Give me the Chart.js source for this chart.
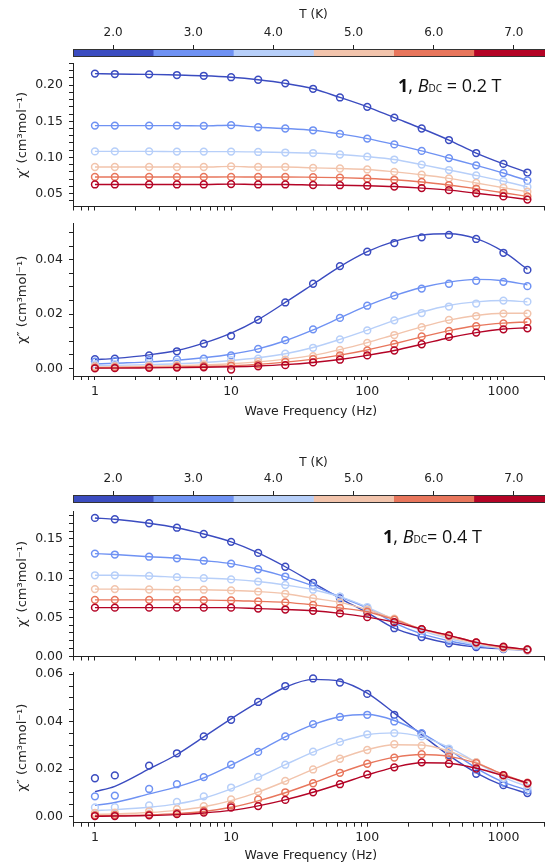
<!DOCTYPE html>
<html>
<head>
<meta charset="utf-8">
<script src="https://cdn.jsdelivr.net/npm/chart.js@4/dist/chart.umd.min.js"></script>
<style>
  body { margin: 0; background: #fff; }
  #fig { position: relative; width: 545px; height: 864px; overflow: hidden; }
  #fig canvas { position: absolute; left: 0; }
</style>
</head>
<body>
<div id="fig">
  <canvas id="cb1" width="554" height="57" style="top:0px"></canvas>
  <canvas id="p1" width="554" height="170" style="top:50px"></canvas>
  <canvas id="p2" width="554" height="212" style="top:210px"></canvas>
  <canvas id="cb2" width="554" height="57" style="top:446px"></canvas>
  <canvas id="p3" width="554" height="172" style="top:498px"></canvas>
  <canvas id="p4" width="554" height="205" style="top:659px"></canvas>
</div>
<script>
        const temps = [2, 3, 4, 5, 6, 7];
        const tempColors = ['#3b4cc0', '#6f92f3', '#b7cff9', '#f2c4ac', '#e8765c', '#b40426'];
        const axisColor = '#222222';

        const freq = [1, 1.4, 2.5, 4, 6.3, 10, 15.8, 25, 40, 63, 100, 158, 251, 398, 631, 1000, 1500];
        const freqTicks = [0.7, 0.8, 0.9, 1, 2, 3, 4, 5, 6, 7, 8, 9, 10, 20, 30, 40, 50, 60, 70, 80, 90,
                           100, 200, 300, 400, 500, 600, 700, 800, 900, 1000, 2000];
        const freqLabels = [1, 10, 100, 1000];

        // chi' at 0.2 T, one row per temperature (2 K .. 7 K)
        const chiRe02 = [
            [0.216, 0.2154, 0.215, 0.214, 0.213, 0.211, 0.2075, 0.2025, 0.195, 0.183, 0.170, 0.155, 0.140, 0.124, 0.106, 0.091, 0.079],
            [0.144, 0.144, 0.144, 0.144, 0.1437, 0.1446, 0.1417, 0.140, 0.1375, 0.1325, 0.126, 0.118, 0.109, 0.099, 0.089, 0.0784, 0.068],
            [0.1083, 0.1083, 0.1083, 0.108, 0.108, 0.108, 0.1075, 0.1067, 0.106, 0.104, 0.101, 0.097, 0.090, 0.0825, 0.075, 0.067, 0.059],
            [0.0867, 0.0867, 0.0867, 0.0867, 0.0867, 0.0875, 0.0867, 0.0867, 0.0855, 0.0846, 0.0833, 0.080, 0.076, 0.071, 0.0646, 0.058, 0.0525],
            [0.0729, 0.0729, 0.0729, 0.0729, 0.0729, 0.073, 0.0729, 0.0729, 0.0725, 0.072, 0.0708, 0.069, 0.066, 0.0617, 0.0567, 0.051, 0.046],
            [0.0625, 0.0625, 0.0625, 0.0625, 0.0625, 0.063, 0.0625, 0.0625, 0.0618, 0.0615, 0.0608, 0.0596, 0.0575, 0.0546, 0.0504, 0.046, 0.0416]
        ];
        // chi'' at 0.2 T, measured points
        const chiIm02 = [
            [0.0034, 0.0036, 0.0048, 0.0063, 0.0091, 0.012, 0.0179, 0.0243, 0.0312, 0.0377, 0.043, 0.0462, 0.0483, 0.0492, 0.0477, 0.0426, 0.0363],
            [0.0025, 0.0027, 0.003, 0.0033, 0.0036, 0.0048, 0.0072, 0.0104, 0.0144, 0.0186, 0.0231, 0.0268, 0.0294, 0.0312, 0.0323, 0.0319, 0.0303],
            [0.0015, 0.0016, 0.002, 0.0023, 0.0027, 0.003, 0.0036, 0.0054, 0.0076, 0.0107, 0.014, 0.0177, 0.0204, 0.0228, 0.0239, 0.025, 0.0246],
            [0.0008, 0.0008, 0.001, 0.0012, 0.0015, 0.0018, 0.0024, 0.0032, 0.0045, 0.0068, 0.0094, 0.0123, 0.0152, 0.0179, 0.0193, 0.0202, 0.0202],
            [0.0003, 0.0004, 0.0005, 0.0006, 0.0008, 0.001, 0.0015, 0.0024, 0.0034, 0.0048, 0.0066, 0.009, 0.0118, 0.0138, 0.0156, 0.0166, 0.0172],
            [0.0, 0.0001, 0.0002, 0.0003, 0.0004, -0.0004, 0.0008, 0.0012, 0.0022, 0.0032, 0.0048, 0.0066, 0.0089, 0.0116, 0.0132, 0.0144, 0.0148]
        ];
        // chi'' at 0.2 T, fitted curves read at the same frequencies
        const fitIm02 = [
            [0.0032, 0.0037, 0.0050, 0.0066, 0.0093, 0.0130, 0.0180, 0.0243, 0.0310, 0.0375, 0.0430, 0.0468, 0.0491, 0.0496, 0.0478, 0.0430, 0.0365],
            [0.0016, 0.0019, 0.0024, 0.0030, 0.0039, 0.0052, 0.0072, 0.0102, 0.0142, 0.0186, 0.0231, 0.0268, 0.0298, 0.0318, 0.0328, 0.0323, 0.0308],
            [0.0010, 0.0011, 0.0014, 0.0017, 0.0022, 0.0029, 0.0039, 0.0054, 0.0077, 0.0107, 0.0141, 0.0177, 0.0208, 0.0232, 0.0245, 0.0250, 0.0245],
            [0.0005, 0.0006, 0.0008, 0.0010, 0.0013, 0.0017, 0.0024, 0.0034, 0.0048, 0.0069, 0.0095, 0.0124, 0.0153, 0.0178, 0.0195, 0.0203, 0.0203],
            [0.0002, 0.0003, 0.0004, 0.0005, 0.0007, 0.0010, 0.0015, 0.0023, 0.0034, 0.0049, 0.0068, 0.0091, 0.0116, 0.0139, 0.0157, 0.0167, 0.0171],
            [0.0001, 0.0001, 0.0002, 0.0003, 0.0004, 0.0006, 0.0009, 0.0014, 0.0022, 0.0033, 0.0048, 0.0066, 0.0089, 0.0113, 0.0132, 0.0145, 0.0150]
        ];
        // chi' at 0.4 T
        const chiRe04 = [
            [0.1768, 0.1751, 0.170, 0.1643, 0.1563, 0.1463, 0.1322, 0.1145, 0.094, 0.0743, 0.056, 0.0361, 0.0249, 0.0169, 0.012, 0.0096, 0.0081],
            [0.1313, 0.1301, 0.1273, 0.1253, 0.1222, 0.1185, 0.1113, 0.102, 0.090, 0.0759, 0.062, 0.043, 0.0289, 0.0201, 0.0137, 0.0108, 0.008],
            [0.1036, 0.1036, 0.1028, 0.1012, 0.100, 0.0984, 0.0956, 0.0912, 0.0852, 0.0764, 0.0631, 0.047, 0.033, 0.0229, 0.0149, 0.0101, 0.008],
            [0.086, 0.086, 0.0855, 0.0852, 0.0852, 0.0843, 0.0828, 0.080, 0.0743, 0.0691, 0.0599, 0.0482, 0.035, 0.0249, 0.0169, 0.0108, 0.008],
            [0.0723, 0.0723, 0.0723, 0.0722, 0.072, 0.0715, 0.0703, 0.0691, 0.0659, 0.0619, 0.0571, 0.047, 0.035, 0.027, 0.0181, 0.012, 0.0089],
            [0.0623, 0.0623, 0.0623, 0.0623, 0.0623, 0.0623, 0.0611, 0.0599, 0.0583, 0.055, 0.0502, 0.0438, 0.035, 0.027, 0.0181, 0.0125, 0.0089]
        ];
        // chi'' at 0.4 T, measured points
        const chiIm04 = [
            [0.0162, 0.0174, 0.0215, 0.0267, 0.0338, 0.0408, 0.0483, 0.055, 0.0582, 0.0565, 0.0517, 0.0429, 0.0349, 0.026, 0.0181, 0.0133, 0.010],
            [0.0086, 0.0089, 0.0117, 0.0137, 0.0167, 0.0219, 0.0273, 0.0338, 0.039, 0.042, 0.0429, 0.0401, 0.0352, 0.0281, 0.0199, 0.0144, 0.011],
            [0.0039, 0.004, 0.0048, 0.0062, 0.0086, 0.0123, 0.0168, 0.0219, 0.0274, 0.0315, 0.0347, 0.0352, 0.0338, 0.0287, 0.0229, 0.0162, 0.0123],
            [0.0016, 0.0017, 0.0023, 0.0032, 0.0045, 0.0073, 0.0106, 0.0151, 0.0199, 0.0244, 0.0281, 0.0305, 0.0299, 0.0274, 0.023, 0.0171, 0.0137],
            [0.0007, 0.0008, 0.001, 0.0016, 0.0025, 0.0048, 0.0073, 0.0103, 0.0141, 0.0185, 0.0223, 0.0249, 0.0263, 0.0253, 0.0226, 0.0175, 0.0143],
            [0.0003, 0.0003, 0.0006, 0.0011, 0.0018, 0.0039, 0.0045, 0.0071, 0.0103, 0.0137, 0.0178, 0.0208, 0.0229, 0.0223, 0.0203, 0.0175, 0.0141]
        ];
        // chi'' at 0.4 T, fitted curves
        const fitIm04 = [
            [0.0106, 0.0128, 0.0201, 0.0262, 0.0336, 0.0412, 0.0482, 0.0545, 0.0578, 0.0570, 0.0520, 0.0436, 0.0345, 0.0258, 0.0185, 0.0131, 0.0098],
            [0.0048, 0.0060, 0.0096, 0.0126, 0.0164, 0.0217, 0.0275, 0.0336, 0.0388, 0.0421, 0.0430, 0.0405, 0.0352, 0.0282, 0.0205, 0.0146, 0.0112],
            [0.0026, 0.0030, 0.0040, 0.0054, 0.0078, 0.0117, 0.0165, 0.0219, 0.0272, 0.0315, 0.0345, 0.0353, 0.0336, 0.0292, 0.0229, 0.0167, 0.0126],
            [0.0010, 0.0012, 0.0018, 0.0027, 0.0042, 0.0068, 0.0104, 0.0149, 0.0199, 0.0245, 0.0282, 0.0303, 0.0302, 0.0276, 0.0230, 0.0175, 0.0137],
            [0.0004, 0.0005, 0.0008, 0.0013, 0.0022, 0.0040, 0.0067, 0.0101, 0.0142, 0.0185, 0.0223, 0.0250, 0.0262, 0.0254, 0.0226, 0.0178, 0.0143],
            [0.0002, 0.0003, 0.0005, 0.0009, 0.0016, 0.0027, 0.0046, 0.0071, 0.0103, 0.0138, 0.0176, 0.0208, 0.0227, 0.0225, 0.0204, 0.0173, 0.0142]
        ];

        Chart.defaults.font.family = '"DejaVu Sans", sans-serif';
        Chart.defaults.color = axisColor;

        function linTicks(min, max, step) {
            const out = [];
            for (let k = Math.ceil(min / step - 1e-9); k * step <= max + 1e-9; k++) {
                out.push({ value: +(k * step).toFixed(5) });
            }
            return out;
        }

        // outline around the colour bar
        const outlinePlugin = {
            id: 'outline',
            afterDraw(chart, args, opts) {
                if (!opts.on) return;
                const a = chart.chartArea, ctx = chart.ctx;
                ctx.save();
                ctx.strokeStyle = '#333';
                ctx.lineWidth = 1;
                ctx.strokeRect(a.left + 0.5, a.top + 0.5, a.right - a.left, a.bottom - a.top - 1);
                ctx.restore();
            }
        };

        // "1, B_DC = x T" label
        const fieldLabelPlugin = {
            id: 'fieldLabel',
            afterDraw(chart, args, opts) {
                if (!opts.text) return;
                const ctx = chart.ctx;
                const fam = '"Open Sans", "DejaVu Sans", sans-serif';
                const parts = [
                    ['bold 18px ' + fam, '1'],
                    ['18px ' + fam, ', '],
                    ['italic 18px ' + fam, 'B'],
                    ['10px ' + fam, 'DC'],
                    ['18px ' + fam, opts.text]
                ];
                let x = opts.x;
                ctx.save();
                ctx.fillStyle = '#111';
                ctx.textBaseline = 'alphabetic';
                parts.forEach(p => {
                    ctx.font = p[0];
                    ctx.fillText(p[1], x, opts.y);
                    x += ctx.measureText(p[1]).width;
                });
                ctx.restore();
            }
        };

        function makeColorbar(id, titlePad) {
            new Chart(document.getElementById(id), {
                type: 'bar',
                data: {
                    labels: ['T'],
                    datasets: temps.map((t, i) => ({
                        data: [[t - 0.5, t + 0.5]],
                        backgroundColor: tempColors[i],
                        borderWidth: 0,
                        barPercentage: 1,
                        categoryPercentage: 1,
                        grouped: false
                    }))
                },
                options: {
                    indexAxis: 'y',
                    responsive: false,
                    animation: false,
                    layout: { padding: { left: 73, right: 0, top: 0, bottom: 0 } },
                    scales: {
                        x: {
                            type: 'linear', position: 'top', min: 1.5, max: 7.5,
                            afterBuildTicks: s => { s.ticks = temps.map(v => ({ value: v })); },
                            afterFit: s => { s.height = 49; },
                            ticks: { callback: v => v.toFixed(1), font: { size: 12 }, padding: 5, maxRotation: 0 },
                            title: { display: true, text: 'T (K)', font: { size: 12 }, padding: { top: titlePad, bottom: 0 } },
                            grid: { drawOnChartArea: false, tickLength: 4, tickColor: axisColor },
                            border: { display: false }
                        },
                        y: { display: false }
                    },
                    plugins: { legend: { display: false }, tooltip: { enabled: false }, outline: { on: true } }
                },
                plugins: [outlinePlugin]
            });
        }

        function makePanel(id, cfg) {
            const hasFit = !!cfg.fits;
            const points = temps.map((t, i) => ({
                label: t + ' K',
                data: freq.map((f, j) => ({ x: f, y: cfg.rows[i][j] })),
                showLine: !hasFit,
                borderColor: tempColors[i],
                backgroundColor: 'rgba(0,0,0,0)',
                borderWidth: 1.4,
                pointRadius: 3.4,
                pointBorderWidth: 1.5,
                pointBorderColor: tempColors[i],
                pointBackgroundColor: 'rgba(0,0,0,0)',
                cubicInterpolationMode: 'monotone',
                order: 2 * (temps.length - 1 - i)
            }));
            const lines = !hasFit ? [] : temps.map((t, i) => ({
                label: t + ' K fit',
                data: freq.map((f, j) => ({ x: f, y: cfg.fits[i][j] })),
                showLine: true,
                borderColor: tempColors[i],
                borderWidth: 1.4,
                pointRadius: 0,
                cubicInterpolationMode: 'monotone',
                order: 2 * (temps.length - 1 - i) + 1
            }));
            new Chart(document.getElementById(id), {
                type: 'scatter',
                data: { datasets: points.concat(lines) },
                options: {
                    responsive: false,
                    animation: false,
                    layout: { padding: { left: 0, right: 0, top: cfg.padTop, bottom: 0 } },
                    scales: {
                        x: {
                            type: 'logarithmic', min: 0.69, max: 2143,
                            afterBuildTicks: s => { s.ticks = freqTicks.map(v => ({ value: v })); },
                            afterFit: s => { s.height = cfg.xHeight; },
                            ticks: {
                                autoSkip: false, maxRotation: 0, padding: 4, font: { size: 12.5 },
                                callback: v => (cfg.xLabels && freqLabels.includes(v)) ? String(v) : ''
                            },
                            title: {
                                display: cfg.xLabels, text: 'Wave Frequency (Hz)', font: { size: 12.5 },
                                padding: { top: 0, bottom: cfg.titlePad || 0 }
                            },
                            grid: { drawOnChartArea: false, tickLength: 4, tickColor: axisColor },
                            border: { color: axisColor, width: 1 }
                        },
                        y: {
                            type: 'linear', min: cfg.min, max: cfg.max,
                            afterBuildTicks: s => { s.ticks = linTicks(cfg.min, cfg.max, cfg.minor); },
                            afterFit: s => { s.width = 73; },
                            ticks: {
                                autoSkip: false, padding: 6, font: { size: 12.5 },
                                callback: v => {
                                    const r = v / cfg.major;
                                    return Math.abs(r - Math.round(r)) < 1e-6 ? v.toFixed(2) : '';
                                }
                            },
                            title: { display: true, text: cfg.yTitle, font: { size: 13 }, padding: { top: 15, bottom: 0 } },
                            grid: { drawOnChartArea: false, tickLength: 4, tickColor: axisColor },
                            border: { color: axisColor, width: 1 }
                        }
                    },
                    plugins: {
                        legend: { display: false },
                        tooltip: { enabled: false },
                        fieldLabel: cfg.label || {}
                    }
                },
                plugins: [fieldLabelPlugin]
            });
        }

        makeColorbar('cb1', 8);
        makePanel('p1', {
            rows: chiRe02, min: 0.032, max: 0.23, minor: 0.01, major: 0.05,
            yTitle: 'χ′ (cm³mol⁻¹)', padTop: 8, xHeight: 5, xLabels: false,
            label: { text: ' = 0.2 T', x: 398, y: 41.7 }
        });
        makePanel('p2', {
            rows: chiIm02, fits: fitIm02, min: -0.0028, max: 0.0534, minor: 0.005, major: 0.02,
            yTitle: 'χ″ (cm³mol⁻¹)', padTop: 10, xHeight: 46, xLabels: true, titlePad: 2.5
        });
        makeColorbar('cb2', 10);
        makePanel('p3', {
            rows: chiRe04, min: 0, max: 0.185, minor: 0.01, major: 0.05,
            yTitle: 'χ′ (cm³mol⁻¹)', padTop: 10, xHeight: 8.5, xLabels: false,
            label: { text: '= 0.4 T', x: 383, y: 44.7 }
        });
        makePanel('p4', {
            rows: chiIm04, fits: fitIm04, min: -0.0025, max: 0.0607, minor: 0.005, major: 0.02,
            yTitle: 'χ″ (cm³mol⁻¹)', padTop: 10, xHeight: 41.3, xLabels: true, titlePad: 0.8
        });
</script>
</body>
</html>
